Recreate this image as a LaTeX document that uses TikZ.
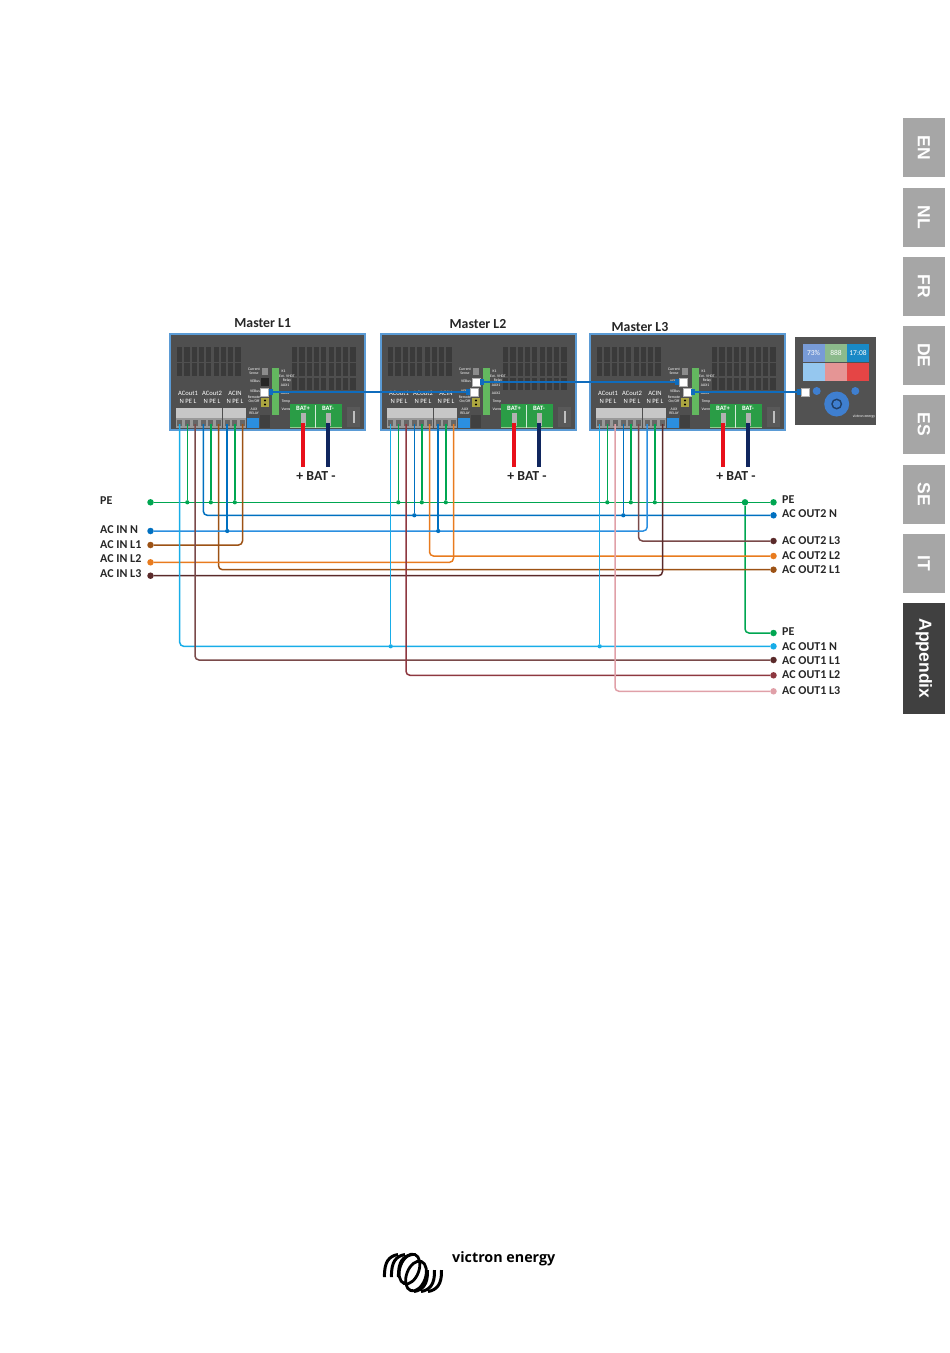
\documentclass[tikz,border=0pt]{standalone}
\usepackage{fontspec}
\setmainfont{Carlito}
\newfontfamily\tabfont{Liberation Sans}
\newfontfamily\logofont{Open Sans}
\definecolor{casing}{HTML}{4F4F4F}
\definecolor{frameblue}{HTML}{5B9BD5}
\definecolor{vent}{HTML}{3A3A3A}
\definecolor{cablec}{HTML}{0F6CBD}
\definecolor{pegreen}{HTML}{00A651}
\definecolor{batgreen}{HTML}{2A9D46}
\definecolor{strip}{HTML}{63B85F}
\definecolor{nblue}{HTML}{0070C0}
\definecolor{nlight}{HTML}{2B8FE0}
\definecolor{ncyan}{HTML}{18ADE8}
\definecolor{lbrown}{HTML}{9C5215}
\definecolor{lorange}{HTML}{E87B1E}
\definecolor{ldark}{HTML}{5A2A2A}
\definecolor{lmid}{HTML}{7A4A4A}
\definecolor{lred}{HTML}{8E3840}
\definecolor{lpink}{HTML}{E0A0A8}
\definecolor{tabgrey}{HTML}{A6A6A6}
\definecolor{tabdark}{HTML}{404040}
\definecolor{batred}{HTML}{E8101A}
\definecolor{batnavy}{HTML}{10265E}
\definecolor{dialblue}{HTML}{3F7FD0}
\begin{document}
\begin{tikzpicture}[x=1pt,y=-1pt]
\tikzstyle{wire}=[line width=1.5pt,rounded corners=4pt]
\tikzstyle{dot}=[circle,inner sep=0pt,minimum size=6.5pt]
\tikzstyle{jdot}=[circle,inner sep=0pt,minimum size=4.2pt]
\tikzstyle{lbl}=[anchor=west,inner sep=0pt,font=\bfseries\fontsize{12}{13}\selectfont,text=black!85]
\tikzstyle{title}=[inner sep=0pt,font=\bfseries\fontsize{13.8}{14}\selectfont,text=black!85]
\tikzstyle{tiny}=[inner sep=0pt,text=white,align=center,font=\fontsize{3.8}{4}\selectfont]
\tikzstyle{term}=[inner sep=0pt,text=white,font=\fontsize{6.6}{7}\selectfont]
\tikzstyle{port}=[draw=black!30,fill=white,inner sep=0pt,minimum width=8pt,minimum height=8pt]
\tikzstyle{cable}=[cablec,line width=2.8pt]
\tikzstyle{plug}=[cablec,line width=5.5pt]
\tikzstyle{tab}=[fill=tabgrey,text=white,inner sep=0pt,minimum height=42pt,font=\tabfont\bfseries\fontsize{17.5}{18}\selectfont,rotate=-90]
\tikzstyle{tile}=[inner sep=0pt,text=white,minimum width=22pt,minimum height=18pt,font=\fontsize{7.5}{8}\selectfont]
\useasboundingbox (0,0) rectangle (950,1353);

% language tabs
\foreach \n/\t/\y/\h in {en/EN/147.5/59,nl/NL/217.5/59,fr/FR/286.5/59,de/DE/355.5/59,es/ES/424.5/59,se/SE/494.5/59,it/IT/563.5/59}
  \node[tab,minimum width=\h pt] (tab\n) at (924,\y) {\t};
\node[tab,fill=tabdark,minimum width=111pt] (tabapp) at (924,658.5) {Appendix};

% the three inverters
\foreach \m/\dx in {1/0,2/211,3/420} {
\begin{scope}[shift={(170+\dx,0)}]
\fill[casing] (0,334) rectangle (195,430);
\foreach \i in {0,...,8} {
  \fill[vent] (7+7.3*\i,347) rectangle +(5.2,14.5);
  \fill[vent] (7+7.3*\i,363) rectangle +(5.2,13);
  \fill[vent] (122+7.3*\i,347) rectangle +(5.2,14.5);
  \fill[vent] (122+7.3*\i,363) rectangle +(5.2,13);
  \fill[vent] (122+7.3*\i,378) rectangle +(5.2,12);
}
% AC terminals
\foreach \x in {6,29,53} {
  \fill[black!22] (\x,408) rectangle +(22.5,10);
  \fill[black!40] (\x,418) rectangle +(22.5,10);
}
\foreach \i/\x in {1/9.7,2/17.3,3/25,4/33.3,5/40.8,6/48.5,7/57.2,8/64.8,9/72.5} {
  \fill[black!60] (\x-2.5,420) rectangle +(5,6);
  \coordinate (t\m\i) at (\x,424);
}
\node[term] (acoa\m) at (18,393) {ACout1};
\node[term] (acob\m) at (42,393) {ACout2};
\node[term] (acin\m) at (65,393) {ACIN};
\node[term] (npea\m) at (18,401) {N PE L};
\node[term] (npeb\m) at (42,401) {N PE L};
\node[term] (npec\m) at (65,401) {N PE L};
% control connectors
\fill[nlight] (77,418) rectangle +(12,10);
\fill[black!75] (90,415) rectangle +(10,13);
\fill[black!45] (92,368) rectangle +(6,7);
\fill[strip] (102,368) rectangle +(7,47);
\node[tiny] (cs\m) at (84,371.5) {Current\\Sense};
\node[tiny] (vea\m) at (85,381.5) {VEBus};
\node[tiny] (veb\m) at (85,391.5) {VEBus};
\node[tiny] (rem\m) at (84,399.5) {Remote\\On/Off};
\node[tiny] (aux\m) at (84,411) {AUX\\RELAY};
\node[tiny] (ka\m) at (113.5,371.5) {K1};
\node[tiny] (ext\m) at (117,378.5) {Ext. VHDT\\Relay};
\node[tiny] (auxa\m) at (115,385.5) {AUX1};
\node[tiny] (auxb\m) at (115,393) {AUX2};
\node[tiny] (tmp\m) at (116,402) {Temp};
\node[tiny] (vs\m) at (117,409.5) {Vsense};
\fill[black!10!yellow!70!black] (91,398) rectangle +(8,9);
\fill[black] (95,400.5) circle (1.2) (95,404.5) circle (1.2);
% battery
\fill[batgreen] (120,404) rectangle +(52,24);
\fill[strip!70!white] (120,426.5) rectangle +(52,1.5);
\fill[white!80!batgreen] (145.3,405) rectangle +(0.8,23);
\fill[black!30] (131,413) rectangle +(4.5,13);
\fill[black!30] (156,413) rectangle +(4.5,13);
\node[term,font=\bfseries\fontsize{6.6}{7}\selectfont] (bp\m) at (133,408.5) {BAT+};
\node[term,font=\bfseries\fontsize{6.6}{7}\selectfont] (bm\m) at (158,408.5) {BAT-};
\fill[black!65] (177,407) rectangle +(13,20);
\fill[black!25] (182.5,411) rectangle +(2,12);
\coordinate (bpt\m) at (133,423);
\coordinate (bmt\m) at (158,423);
\coordinate (bpb\m) at (133,467);
\coordinate (bmb\m) at (158,467);
\draw[frameblue,line width=2pt] (0,334) rectangle (195,430);
\draw[batred,line width=4pt] (bpt\m) -- (bpb\m);
\draw[batnavy,line width=4pt] (bmt\m) -- (bmb\m);
\node[title] (bat\m) at (146,475.7) {+ BAT -};
\end{scope}
}
\node[title] (mastera) at (262.7,322.7) {Master L1};
\node[title] (masterb) at (478,324) {Master L2};
\node[title] (masterc) at (640,326.7) {Master L3};

% terminal dots left
\foreach \n/\y/\ly/\c/\t in {inPE/502.3/501/pegreen/PE,inN/531/530/nblue/AC IN N,inLa/545/544.5/lbrown/AC IN L1,inLb/562.3/559/lorange/AC IN L2,inLc/575.7/574/ldark/AC IN L3} {
  \node[dot,fill=\c] (\n) at (150.5,\y) {};
  \node[lbl] (\n txt) at (100,\ly) {\t};
}
% terminal dots right
\foreach \n/\y/\ly/\c/\t in {outPE/502.3/500/pegreen/PE,outbN/515.3/514/nblue/AC OUT2 N,outbLc/541/541/ldark/AC OUT2 L3,outbLb/556/556/lorange/AC OUT2 L2,outbLa/569.7/570/lbrown/AC OUT2 L1,outaPE/633/632/pegreen/PE,outaN/646.3/646.5/ncyan/AC OUT1 N,outaLa/660/661/ldark/AC OUT1 L1,outaLb/675.3/675/lred/AC OUT1 L2,outaLc/691.3/690.5/lpink/AC OUT1 L3} {
  \node[dot,fill=\c] (\n) at (773.5,\y) {};
  \node[lbl] (\n txt) at (782,\ly) {\t};
}

% PE
\draw[wire,pegreen] (inPE) -- (outPE);
\node[jdot,minimum size=6.5pt,fill=pegreen] (jpe) at (745,502.3) {};
\draw[wire,pegreen] (jpe) |- (outaPE);
\foreach \a in {12,15,18,22,25,28,32,35,38} {
  \node[jdot,fill=pegreen] (j\a) at (t\a |- inPE) {};
  \draw[wire,pegreen] (t\a) -- (j\a);
}
% AC out 2
\draw[wire,nblue] (t14) |- (outbN);
\draw[wire,lbrown] (t16) |- (outbLa);
\draw[wire,lorange] (t26) |- (outbLb);
\draw[wire,lmid] (t36) |- (outbLc);
\foreach \a in {24,34} {
  \node[jdot,fill=nblue] (j\a) at (t\a |- outbN) {};
  \draw[wire,nblue] (t\a) -- (j\a);
}
% AC in
\draw[wire,nlight] (inN) -| (t37);
\draw[wire,lbrown] (inLa) -| (t19);
\draw[wire,lorange] (inLb) -| (t29);
\draw[wire,ldark] (inLc) -| (t39);
\foreach \a in {17,27} {
  \node[jdot,fill=nblue] (j\a) at (t\a |- inN) {};
  \draw[wire,nblue] (t\a) -- (j\a);
}
% AC out 1
\draw[wire,ncyan] (t11) |- (outaN);
\draw[wire,lmid] (t13) |- (outaLa);
\draw[wire,lred] (t23) |- (outaLb);
\draw[wire,lpink] (t33) |- (outaLc);
\foreach \a in {21,31} {
  \node[jdot,fill=ncyan] (j\a) at (t\a |- outaN) {};
  \draw[wire,ncyan] (t\a) -- (j\a);
}

% control panel
\fill[black!68] (795,337) rectangle (876,425);
\node[tile,fill=cyan!45!blue!55!white] (tlaa) at (813.5,353) {73\%};
\node[tile,fill=green!40!black!45!white] (tlab) at (836,353) {888};
\node[tile,fill=blue!35!cyan!75!black!90!white] (tlac) at (858,353) {17:08};
\node[tile,fill=nlight!50!white] (tlba) at (813.5,371.5) {};
\node[tile,fill=red!35!white!90!black] (tlbb) at (836,371.5) {};
\node[tile,fill=red!70!white!90!black] (tlbc) at (858,371.5) {};
\fill[dialblue] (816.7,391) circle (4) (855.3,391) circle (4) (836.7,404) circle (12.5);
\fill[dialblue!50!black] (836.7,404) circle (5.5);
\fill[dialblue] (836.7,404) circle (3.8);
\node[tiny] (vic) at (864,417) {victron energy};

% VE.Bus ports
\fill[black!85] (261,378) rectangle +(8,8);
\node[port] (pab) at (264.5,392) {};
\node[port] (pba) at (476,382) {};
\node[port] (pbb) at (474,392) {};
\node[port] (pca) at (683.5,382) {};
\node[port] (pcb) at (687,392) {};
\node[port] (ppan) at (805,392) {};
\draw[cable] (pab.east) -- (pbb.west);
\draw[cable] (pba.east) -- (pca.west);
\draw[cable] (pcb.east) -- (ppan.west);
\draw[plug] (pab.east) -- +(4,0);
\draw[plug] (pbb.west) -- +(-4,0);
\draw[plug] (pba.east) -- +(4,0);
\draw[plug] (pca.west) -- +(-4,0);
\draw[plug] (pcb.east) -- +(4,0);
\draw[plug] (ppan.west) -- +(-4,0);

% logo
\node[anchor=west,inner sep=0pt,font=\logofont\bfseries\fontsize{14.3}{15}\selectfont] (brand) at (452,1258.5) {victron energy};
\foreach \i in {0,1,2}
  \draw[line width=3pt] (384.5+7*\i,1277) .. controls (384+7*\i,1262) and (389+7*\i,1256) .. (398+7*\i,1254.5);
\foreach \i in {0,1,2}
  \draw[line width=3pt] (441.5-7*\i,1270) .. controls (442-7*\i,1284) and (437-7*\i,1290) .. (428-7*\i,1291.5);
\draw[line width=2.8pt,rotate around={-20:(409.5,1269)}] (409.5,1269) ellipse (9.5 and 15.5);
\draw[line width=2.8pt,rotate around={-20:(416,1276)}] (416,1276) ellipse (9.5 and 15.5);
\end{tikzpicture}
\end{document}
